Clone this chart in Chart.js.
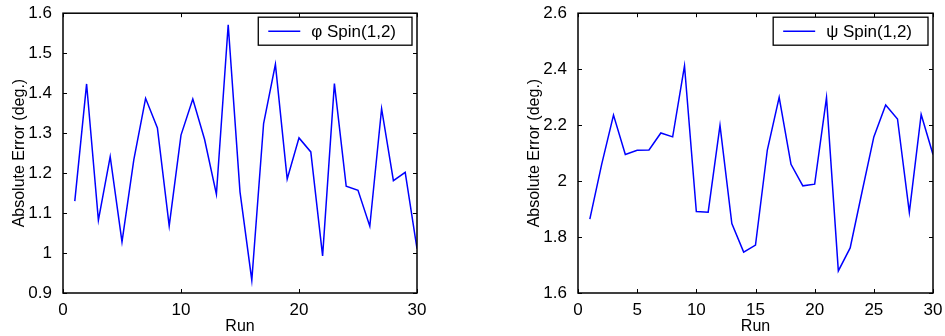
<!DOCTYPE html>
<html>
<head>
<meta charset="utf-8">
<script src="https://cdn.jsdelivr.net/npm/chart.js@4"></script>
<style>
  body { margin: 0; background: #fff; }
  #wrap { position: relative; width: 945px; height: 336px; }
  #c1 { position: absolute; left: 0; top: 0; }
  #c2 { position: absolute; left: 515px; top: 0; }
</style>
</head>
<body>
<div id="wrap">
  <canvas id="c1" width="515" height="336"></canvas>
  <canvas id="c2" width="430" height="336"></canvas>
</div>
<script>
// runs 1..30
const runs = [1, 2, 3, 4, 5, 6, 7, 8, 9, 10, 11, 12, 13, 14, 15,
              16, 17, 18, 19, 20, 21, 22, 23, 24, 25, 26, 27, 28, 29, 30];

const phiError = [1.130, 1.423, 1.082, 1.241, 1.028, 1.233, 1.387, 1.313, 1.068, 1.295,
                  1.385, 1.284, 1.147, 1.571, 1.153, 0.932, 1.324, 1.472, 1.185, 1.288,
                  1.253, 0.993, 1.424, 1.167, 1.157, 1.067, 1.361, 1.181, 1.202, 1.011];

const psiError = [1.864, 2.060, 2.236, 2.095, 2.110, 2.111, 2.172, 2.158, 2.412, 1.891,
                  1.889, 2.199, 1.848, 1.746, 1.771, 2.111, 2.299, 2.060, 1.983, 1.989,
                  2.298, 1.679, 1.761, 1.961, 2.158, 2.272, 2.222, 1.888, 2.238, 2.095];

const FONT = 'Liberation Sans, Arial, Helvetica, sans-serif';

// box around plot + inward ticks on all four sides
const boxTicks = {
  id: 'boxTicks',
  afterDraw(chart) {
    const { ctx, chartArea: a, scales } = chart;
    const len = 4;
    ctx.save();
    ctx.strokeStyle = '#000';
    ctx.lineWidth = 1;
    ctx.beginPath();
    scales.x.ticks.forEach(t => {
      const px = Math.round(scales.x.getPixelForValue(t.value)) + 0.5;
      ctx.moveTo(px, a.bottom); ctx.lineTo(px, a.bottom - len);
      ctx.moveTo(px, a.top); ctx.lineTo(px, a.top + len);
    });
    scales.y.ticks.forEach(t => {
      const py = Math.round(scales.y.getPixelForValue(t.value)) + 0.5;
      ctx.moveTo(a.left, py); ctx.lineTo(a.left + len, py);
      ctx.moveTo(a.right, py); ctx.lineTo(a.right - len, py);
    });
    ctx.stroke();
    ctx.lineWidth = 1.5;
    ctx.strokeRect(a.left, a.top, a.right - a.left, a.bottom - a.top);
    ctx.restore();
  }
};

// matlab style legend box in upper right corner
const boxLegend = {
  id: 'boxLegend',
  afterDraw(chart) {
    const { ctx, chartArea: a } = chart;
    const ds = chart.data.datasets[0];
    ctx.save();
    ctx.font = '17px ' + FONT;
    const tw = ctx.measureText(ds.label).width;
    const w = 10 + 32 + 11 + tw + 16;
    const h = 28;
    const x = a.right - 5 - w;
    const y = a.top + 4;
    ctx.fillStyle = '#fff';
    ctx.fillRect(x, y, w, h);
    ctx.strokeStyle = '#000';
    ctx.lineWidth = 1.3;
    ctx.strokeRect(x, y, w, h);
    ctx.strokeStyle = ds.borderColor;
    ctx.lineWidth = 1.5;
    ctx.beginPath();
    ctx.moveTo(x + 10, y + h / 2);
    ctx.lineTo(x + 42, y + h / 2);
    ctx.stroke();
    ctx.fillStyle = '#000';
    ctx.textBaseline = 'middle';
    ctx.fillText(ds.label, x + 53, y + h / 2 + 1);
    ctx.restore();
  }
};

function makeChart(id, label, values, yMin, yMax, yStep, xStep, padRight) {
  return new Chart(document.getElementById(id), {
    type: 'line',
    data: {
      datasets: [{
        label: label,
        data: runs.map((r, i) => ({ x: r, y: values[i] })),
        borderColor: '#0000ff',
        borderWidth: 1.5,
        pointRadius: 0,
        tension: 0,
        fill: false
      }]
    },
    options: {
      responsive: false,
      animation: false,
      layout: { padding: { left: 0, top: 13, right: padRight, bottom: 0 } },
      plugins: { legend: { display: false }, tooltip: { enabled: false } },
      scales: {
        x: {
          type: 'linear',
          min: 0, max: 30,
          grid: { display: false },
          border: { display: false },
          ticks: { stepSize: xStep, color: '#000', font: { family: FONT, size: 17, lineHeight: 1 }, padding: 1, maxRotation: 0 },
          title: { display: true, text: 'Run', color: '#000', font: { family: FONT, size: 16 }, padding: { top: 0, bottom: 0 } },
          afterFit(s) { s.height = 43; }
        },
        y: {
          min: yMin, max: yMax,
          grid: { display: false },
          border: { display: false },
          ticks: {
            stepSize: yStep, color: '#000', font: { family: FONT, size: 17 }, padding: 3,
            callback: v => String(Math.round(v * 10) / 10)
          },
          title: { display: true, text: 'Absolute Error (deg.)', color: '#000', font: { family: FONT, size: 16 }, padding: { top: 10, bottom: 0 } },
          afterFit(s) { s.width = 63; }
        }
      }
    },
    plugins: [boxTicks, boxLegend]
  });
}

makeChart('c1', '\u03c6 Spin(1,2)', phiError, 0.9, 1.6, 0.1, 10, 98);
makeChart('c2', '\u03c8 Spin(1,2)', psiError, 1.6, 2.6, 0.2, 5, 12);
</script>
</body>
</html>
